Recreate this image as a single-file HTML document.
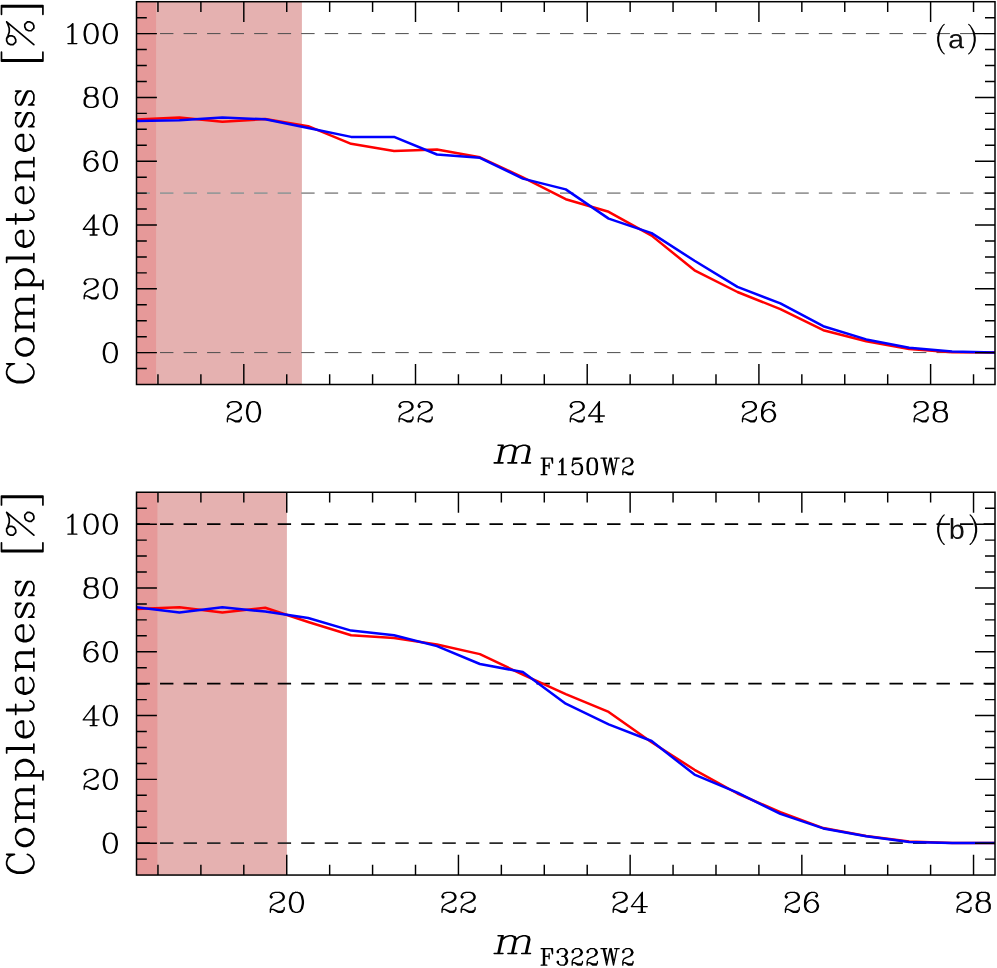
<!DOCTYPE html>
<html><head><meta charset="utf-8"><title>Completeness</title>
<style>
html,body{margin:0;padding:0;background:#fff;}
svg{display:block;}
text{fill:#000;}
.tk{font-family:"Liberation Serif",serif;font-size:31.5px;}
.lab{font-family:"Liberation Serif",serif;font-size:44px;}
.labi{font-family:"Liberation Serif",serif;font-size:44px;font-style:italic;}
.sub{font-family:"Liberation Serif",serif;font-size:27px;}
.pl{font-family:"Liberation Sans",sans-serif;font-size:26.3px;fill:#111;}
</style></head><body>
<svg width="997" height="968" viewBox="0 0 997 968">
<rect width="997" height="968" fill="#fff"/>
<rect x="136.5" y="1.7" width="165.40" height="382.80" fill="#e5b1b0"/>
<rect x="136.5" y="1.7" width="19.60" height="382.80" fill="#e69999"/>
<line x1="136.5" x2="995.0" y1="33.60" y2="33.60" stroke="#4d4d4d" stroke-width="1.0" stroke-dasharray="13.4 10.13"/>
<line x1="136.5" x2="995.0" y1="193.10" y2="193.10" stroke="#999999" stroke-width="1.7" stroke-dasharray="13.4 10.13"/>
<line x1="136.5" x2="995.0" y1="352.60" y2="352.60" stroke="#4d4d4d" stroke-width="1.0" stroke-dasharray="13.4 10.13"/>
<polyline points="136.50,119.60 179.43,117.60 222.35,121.80 265.27,119.10 308.20,126.20 351.12,143.80 394.05,150.90 436.97,149.50 479.90,157.30 522.83,177.40 565.75,199.20 608.67,211.80 651.60,235.60 694.52,270.30 737.45,292.00 780.38,309.10 823.30,330.20 866.22,341.30 909.15,349.10 952.07,352.30 995.00,352.50" fill="none" stroke="#ff0000" stroke-width="2.5" stroke-linejoin="round"/>
<polyline points="136.50,121.10 179.43,120.30 222.35,117.60 265.27,119.30 308.20,127.90 351.12,136.90 394.05,136.90 436.97,154.50 479.90,157.80 522.83,178.60 565.75,189.40 608.67,218.60 651.60,233.10 694.52,260.80 737.45,286.90 780.38,303.40 823.30,326.20 866.22,339.40 909.15,347.80 952.07,351.60 995.00,352.50" fill="none" stroke="#0000ff" stroke-width="2.5" stroke-linejoin="round"/>
<path d="M157.96 384.50v-10.3M157.96 1.70v10.3M200.89 384.50v-10.3M200.89 1.70v10.3M243.81 384.50v-20.4M243.81 1.70v20.4M286.74 384.50v-10.3M286.74 1.70v10.3M329.66 384.50v-10.3M329.66 1.70v10.3M372.59 384.50v-10.3M372.59 1.70v10.3M415.51 384.50v-20.4M415.51 1.70v20.4M458.44 384.50v-10.3M458.44 1.70v10.3M501.36 384.50v-10.3M501.36 1.70v10.3M544.29 384.50v-10.3M544.29 1.70v10.3M587.21 384.50v-20.4M587.21 1.70v20.4M630.14 384.50v-10.3M630.14 1.70v10.3M673.06 384.50v-10.3M673.06 1.70v10.3M715.99 384.50v-10.3M715.99 1.70v10.3M758.91 384.50v-20.4M758.91 1.70v20.4M801.84 384.50v-10.3M801.84 1.70v10.3M844.76 384.50v-10.3M844.76 1.70v10.3M887.69 384.50v-10.3M887.69 1.70v10.3M930.61 384.50v-20.4M930.61 1.70v20.4M973.54 384.50v-10.3M973.54 1.70v10.3M136.5 368.55h10.3M995.0 368.55h-10.0M136.5 352.60h20.4M995.0 352.60h-20.0M136.5 336.65h10.3M995.0 336.65h-10.0M136.5 320.70h10.3M995.0 320.70h-10.0M136.5 304.75h10.3M995.0 304.75h-10.0M136.5 288.80h20.4M995.0 288.80h-20.0M136.5 272.85h10.3M995.0 272.85h-10.0M136.5 256.90h10.3M995.0 256.90h-10.0M136.5 240.95h10.3M995.0 240.95h-10.0M136.5 225.00h20.4M995.0 225.00h-20.0M136.5 209.05h10.3M995.0 209.05h-10.0M136.5 193.10h10.3M995.0 193.10h-10.0M136.5 177.15h10.3M995.0 177.15h-10.0M136.5 161.20h20.4M995.0 161.20h-20.0M136.5 145.25h10.3M995.0 145.25h-10.0M136.5 129.30h10.3M995.0 129.30h-10.0M136.5 113.35h10.3M995.0 113.35h-10.0M136.5 97.40h20.4M995.0 97.40h-20.0M136.5 81.45h10.3M995.0 81.45h-10.0M136.5 65.50h10.3M995.0 65.50h-10.0M136.5 49.55h10.3M995.0 49.55h-10.0M136.5 33.60h20.4M995.0 33.60h-20.0M136.5 17.65h10.3M995.0 17.65h-10.0" stroke="#000" stroke-width="1.45" fill="none"/>
<rect x="136.5" y="1.70" width="858.50" height="382.80" fill="none" stroke="#000" stroke-width="1.5"/>
<path d="M228.37 405.57 229.36 406.52 228.37 407.47 227.38 406.52 227.38 405.57 228.37 403.66 229.36 402.71 232.33 401.76 236.29 401.76 239.26 402.71 240.25 403.66 241.24 405.57 241.24 407.47 240.25 409.37 237.28 411.28 232.33 413.18 230.35 414.13 228.37 416.04 227.38 418.89 227.38 421.75M236.29 401.76 238.27 402.71 239.26 403.66 240.25 405.57 240.25 407.47 239.26 409.37 236.29 411.28 232.33 413.18M227.38 419.85 228.37 418.89 230.35 418.89 235.30 420.80 238.27 420.80 240.25 419.85 241.24 418.89M230.35 418.89 235.30 421.75 239.26 421.75 240.25 420.80 241.24 418.89 241.24 416.99M252.52 401.76 249.55 402.71 247.57 405.57 246.58 410.33 246.58 413.18 247.57 417.94 249.55 420.80 252.52 421.75 254.50 421.75 257.47 420.80 259.45 417.94 260.44 413.18 260.44 410.33 259.45 405.57 257.47 402.71 254.50 401.76 252.52 401.76M252.52 401.76 250.54 402.71 249.55 403.66 248.56 405.57 247.57 410.33 247.57 413.18 248.56 417.94 249.55 419.85 250.54 420.80 252.52 421.75M254.50 421.75 256.48 420.80 257.47 419.85 258.46 417.94 259.45 413.18 259.45 410.33 258.46 405.57 257.47 403.66 256.48 402.71 254.50 401.76" fill="none" stroke="#000" stroke-width="1.35" stroke-linecap="round" stroke-linejoin="round"/>
<path d="M400.07 405.57 401.06 406.52 400.07 407.47 399.08 406.52 399.08 405.57 400.07 403.66 401.06 402.71 404.03 401.76 407.99 401.76 410.96 402.71 411.95 403.66 412.94 405.57 412.94 407.47 411.95 409.37 408.98 411.28 404.03 413.18 402.05 414.13 400.07 416.04 399.08 418.89 399.08 421.75M407.99 401.76 409.97 402.71 410.96 403.66 411.95 405.57 411.95 407.47 410.96 409.37 407.99 411.28 404.03 413.18M399.08 419.85 400.07 418.89 402.05 418.89 407.00 420.80 409.97 420.80 411.95 419.85 412.94 418.89M402.05 418.89 407.00 421.75 410.96 421.75 411.95 420.80 412.94 418.89 412.94 416.99M419.27 405.57 420.26 406.52 419.27 407.47 418.28 406.52 418.28 405.57 419.27 403.66 420.26 402.71 423.23 401.76 427.19 401.76 430.16 402.71 431.15 403.66 432.14 405.57 432.14 407.47 431.15 409.37 428.18 411.28 423.23 413.18 421.25 414.13 419.27 416.04 418.28 418.89 418.28 421.75M427.19 401.76 429.17 402.71 430.16 403.66 431.15 405.57 431.15 407.47 430.16 409.37 427.19 411.28 423.23 413.18M418.28 419.85 419.27 418.89 421.25 418.89 426.20 420.80 429.17 420.80 431.15 419.85 432.14 418.89M421.25 418.89 426.20 421.75 430.16 421.75 431.15 420.80 432.14 418.89 432.14 416.99" fill="none" stroke="#000" stroke-width="1.35" stroke-linecap="round" stroke-linejoin="round"/>
<path d="M571.28 405.57 572.27 406.52 571.28 407.47 570.29 406.52 570.29 405.57 571.28 403.66 572.27 402.71 575.24 401.76 579.20 401.76 582.17 402.71 583.16 403.66 584.15 405.57 584.15 407.47 583.16 409.37 580.19 411.28 575.24 413.18 573.26 414.13 571.28 416.04 570.29 418.89 570.29 421.75M579.20 401.76 581.18 402.71 582.17 403.66 583.16 405.57 583.16 407.47 582.17 409.37 579.20 411.28 575.24 413.18M570.29 419.85 571.28 418.89 573.26 418.89 578.21 420.80 581.18 420.80 583.16 419.85 584.15 418.89M573.26 418.89 578.21 421.75 582.17 421.75 583.16 420.80 584.15 418.89 584.15 416.99M598.40 403.66 598.40 421.75M599.39 401.76 599.39 421.75M599.39 401.76 588.50 416.04 604.34 416.04M595.43 421.75 602.36 421.75" fill="none" stroke="#000" stroke-width="1.35" stroke-linecap="round" stroke-linejoin="round"/>
<path d="M743.47 405.57 744.46 406.52 743.47 407.47 742.48 406.52 742.48 405.57 743.47 403.66 744.46 402.71 747.43 401.76 751.39 401.76 754.36 402.71 755.35 403.66 756.34 405.57 756.34 407.47 755.35 409.37 752.38 411.28 747.43 413.18 745.45 414.13 743.47 416.04 742.48 418.89 742.48 421.75M751.39 401.76 753.37 402.71 754.36 403.66 755.35 405.57 755.35 407.47 754.36 409.37 751.39 411.28 747.43 413.18M742.48 419.85 743.47 418.89 745.45 418.89 750.40 420.80 753.37 420.80 755.35 419.85 756.34 418.89M745.45 418.89 750.40 421.75 754.36 421.75 755.35 420.80 756.34 418.89 756.34 416.99M773.56 404.61 772.57 405.57 773.56 406.52 774.55 405.57 774.55 404.61 773.56 402.71 771.58 401.76 768.61 401.76 765.64 402.71 763.66 404.61 762.67 406.52 761.68 410.33 761.68 416.04 762.67 418.89 764.65 420.80 767.62 421.75 769.60 421.75 772.57 420.80 774.55 418.89 775.54 416.04 775.54 415.09 774.55 412.23 772.57 410.33 769.60 409.37 768.61 409.37 765.64 410.33 763.66 412.23 762.67 415.09M768.61 401.76 766.63 402.71 764.65 404.61 763.66 406.52 762.67 410.33 762.67 416.04 763.66 418.89 765.64 420.80 767.62 421.75M769.60 421.75 771.58 420.80 773.56 418.89 774.55 416.04 774.55 415.09 773.56 412.23 771.58 410.33 769.60 409.37" fill="none" stroke="#000" stroke-width="1.35" stroke-linecap="round" stroke-linejoin="round"/>
<path d="M915.17 405.57 916.16 406.52 915.17 407.47 914.18 406.52 914.18 405.57 915.17 403.66 916.16 402.71 919.13 401.76 923.09 401.76 926.06 402.71 927.05 403.66 928.04 405.57 928.04 407.47 927.05 409.37 924.08 411.28 919.13 413.18 917.15 414.13 915.17 416.04 914.18 418.89 914.18 421.75M923.09 401.76 925.07 402.71 926.06 403.66 927.05 405.57 927.05 407.47 926.06 409.37 923.09 411.28 919.13 413.18M914.18 419.85 915.17 418.89 917.15 418.89 922.10 420.80 925.07 420.80 927.05 419.85 928.04 418.89M917.15 418.89 922.10 421.75 926.06 421.75 927.05 420.80 928.04 418.89 928.04 416.99M938.33 401.76 935.36 402.71 934.37 404.61 934.37 407.47 935.36 409.37 938.33 410.33 942.29 410.33 945.26 409.37 946.25 407.47 946.25 404.61 945.26 402.71 942.29 401.76 938.33 401.76M938.33 401.76 936.35 402.71 935.36 404.61 935.36 407.47 936.35 409.37 938.33 410.33M942.29 410.33 944.27 409.37 945.26 407.47 945.26 404.61 944.27 402.71 942.29 401.76M938.33 410.33 935.36 411.28 934.37 412.23 933.38 414.13 933.38 417.94 934.37 419.85 935.36 420.80 938.33 421.75 942.29 421.75 945.26 420.80 946.25 419.85 947.24 417.94 947.24 414.13 946.25 412.23 945.26 411.28 942.29 410.33M938.33 410.33 936.35 411.28 935.36 412.23 934.37 414.13 934.37 417.94 935.36 419.85 936.35 420.80 938.33 421.75M942.29 421.75 944.27 420.80 945.26 419.85 946.25 417.94 946.25 414.13 945.26 412.23 944.27 411.28 942.29 410.33" fill="none" stroke="#000" stroke-width="1.35" stroke-linecap="round" stroke-linejoin="round"/>
<path d="M109.33 342.61 106.36 343.56 104.38 346.42 103.39 351.18 103.39 354.03 104.38 358.79 106.36 361.65 109.33 362.60 111.31 362.60 114.28 361.65 116.26 358.79 117.25 354.03 117.25 351.18 116.26 346.42 114.28 343.56 111.31 342.61 109.33 342.61M109.33 342.61 107.35 343.56 106.36 344.51 105.37 346.42 104.38 351.18 104.38 354.03 105.37 358.79 106.36 360.70 107.35 361.65 109.33 362.60M111.31 362.60 113.29 361.65 114.28 360.70 115.27 358.79 116.26 354.03 116.26 351.18 115.27 346.42 114.28 344.51 113.29 343.56 111.31 342.61" fill="none" stroke="#000" stroke-width="1.35" stroke-linecap="round" stroke-linejoin="round"/>
<path d="M85.18 282.62 86.17 283.57 85.18 284.52 84.19 283.57 84.19 282.62 85.18 280.71 86.17 279.76 89.14 278.81 93.10 278.81 96.07 279.76 97.06 280.71 98.05 282.62 98.05 284.52 97.06 286.42 94.09 288.33 89.14 290.23 87.16 291.18 85.18 293.09 84.19 295.94 84.19 298.80M93.10 278.81 95.08 279.76 96.07 280.71 97.06 282.62 97.06 284.52 96.07 286.42 93.10 288.33 89.14 290.23M84.19 296.90 85.18 295.94 87.16 295.94 92.11 297.85 95.08 297.85 97.06 296.90 98.05 295.94M87.16 295.94 92.11 298.80 96.07 298.80 97.06 297.85 98.05 295.94 98.05 294.04M109.33 278.81 106.36 279.76 104.38 282.62 103.39 287.38 103.39 290.23 104.38 294.99 106.36 297.85 109.33 298.80 111.31 298.80 114.28 297.85 116.26 294.99 117.25 290.23 117.25 287.38 116.26 282.62 114.28 279.76 111.31 278.81 109.33 278.81M109.33 278.81 107.35 279.76 106.36 280.71 105.37 282.62 104.38 287.38 104.38 290.23 105.37 294.99 106.36 296.90 107.35 297.85 109.33 298.80M111.31 298.80 113.29 297.85 114.28 296.90 115.27 294.99 116.26 290.23 116.26 287.38 115.27 282.62 114.28 280.71 113.29 279.76 111.31 278.81" fill="none" stroke="#000" stroke-width="1.35" stroke-linecap="round" stroke-linejoin="round"/>
<path d="M93.10 216.91 93.10 235.00M94.09 215.01 94.09 235.00M94.09 215.01 83.20 229.29 99.04 229.29M90.13 235.00 97.06 235.00M109.33 215.01 106.36 215.96 104.38 218.82 103.39 223.58 103.39 226.43 104.38 231.19 106.36 234.05 109.33 235.00 111.31 235.00 114.28 234.05 116.26 231.19 117.25 226.43 117.25 223.58 116.26 218.82 114.28 215.96 111.31 215.01 109.33 215.01M109.33 215.01 107.35 215.96 106.36 216.91 105.37 218.82 104.38 223.58 104.38 226.43 105.37 231.19 106.36 233.10 107.35 234.05 109.33 235.00M111.31 235.00 113.29 234.05 114.28 233.10 115.27 231.19 116.26 226.43 116.26 223.58 115.27 218.82 114.28 216.91 113.29 215.96 111.31 215.01" fill="none" stroke="#000" stroke-width="1.35" stroke-linecap="round" stroke-linejoin="round"/>
<path d="M96.07 154.06 95.08 155.02 96.07 155.97 97.06 155.02 97.06 154.06 96.07 152.16 94.09 151.21 91.12 151.21 88.15 152.16 86.17 154.06 85.18 155.97 84.19 159.78 84.19 165.49 85.18 168.34 87.16 170.25 90.13 171.20 92.11 171.20 95.08 170.25 97.06 168.34 98.05 165.49 98.05 164.54 97.06 161.68 95.08 159.78 92.11 158.82 91.12 158.82 88.15 159.78 86.17 161.68 85.18 164.54M91.12 151.21 89.14 152.16 87.16 154.06 86.17 155.97 85.18 159.78 85.18 165.49 86.17 168.34 88.15 170.25 90.13 171.20M92.11 171.20 94.09 170.25 96.07 168.34 97.06 165.49 97.06 164.54 96.07 161.68 94.09 159.78 92.11 158.82M109.33 151.21 106.36 152.16 104.38 155.02 103.39 159.78 103.39 162.63 104.38 167.39 106.36 170.25 109.33 171.20 111.31 171.20 114.28 170.25 116.26 167.39 117.25 162.63 117.25 159.78 116.26 155.02 114.28 152.16 111.31 151.21 109.33 151.21M109.33 151.21 107.35 152.16 106.36 153.11 105.37 155.02 104.38 159.78 104.38 162.63 105.37 167.39 106.36 169.30 107.35 170.25 109.33 171.20M111.31 171.20 113.29 170.25 114.28 169.30 115.27 167.39 116.26 162.63 116.26 159.78 115.27 155.02 114.28 153.11 113.29 152.16 111.31 151.21" fill="none" stroke="#000" stroke-width="1.35" stroke-linecap="round" stroke-linejoin="round"/>
<path d="M89.14 87.41 86.17 88.36 85.18 90.26 85.18 93.12 86.17 95.02 89.14 95.98 93.10 95.98 96.07 95.02 97.06 93.12 97.06 90.26 96.07 88.36 93.10 87.41 89.14 87.41M89.14 87.41 87.16 88.36 86.17 90.26 86.17 93.12 87.16 95.02 89.14 95.98M93.10 95.98 95.08 95.02 96.07 93.12 96.07 90.26 95.08 88.36 93.10 87.41M89.14 95.98 86.17 96.93 85.18 97.88 84.19 99.78 84.19 103.59 85.18 105.50 86.17 106.45 89.14 107.40 93.10 107.40 96.07 106.45 97.06 105.50 98.05 103.59 98.05 99.78 97.06 97.88 96.07 96.93 93.10 95.98M89.14 95.98 87.16 96.93 86.17 97.88 85.18 99.78 85.18 103.59 86.17 105.50 87.16 106.45 89.14 107.40M93.10 107.40 95.08 106.45 96.07 105.50 97.06 103.59 97.06 99.78 96.07 97.88 95.08 96.93 93.10 95.98M109.33 87.41 106.36 88.36 104.38 91.22 103.39 95.98 103.39 98.83 104.38 103.59 106.36 106.45 109.33 107.40 111.31 107.40 114.28 106.45 116.26 103.59 117.25 98.83 117.25 95.98 116.26 91.22 114.28 88.36 111.31 87.41 109.33 87.41M109.33 87.41 107.35 88.36 106.36 89.31 105.37 91.22 104.38 95.98 104.38 98.83 105.37 103.59 106.36 105.50 107.35 106.45 109.33 107.40M111.31 107.40 113.29 106.45 114.28 105.50 115.27 103.59 116.26 98.83 116.26 95.98 115.27 91.22 114.28 89.31 113.29 88.36 111.31 87.41" fill="none" stroke="#000" stroke-width="1.35" stroke-linecap="round" stroke-linejoin="round"/>
<path d="M67.96 27.42 69.94 26.46 72.91 23.61 72.91 43.60M71.92 24.56 71.92 43.60M67.96 43.60 76.87 43.60M90.13 23.61 87.16 24.56 85.18 27.42 84.19 32.18 84.19 35.03 85.18 39.79 87.16 42.65 90.13 43.60 92.11 43.60 95.08 42.65 97.06 39.79 98.05 35.03 98.05 32.18 97.06 27.42 95.08 24.56 92.11 23.61 90.13 23.61M90.13 23.61 88.15 24.56 87.16 25.51 86.17 27.42 85.18 32.18 85.18 35.03 86.17 39.79 87.16 41.70 88.15 42.65 90.13 43.60M92.11 43.60 94.09 42.65 95.08 41.70 96.07 39.79 97.06 35.03 97.06 32.18 96.07 27.42 95.08 25.51 94.09 24.56 92.11 23.61M109.33 23.61 106.36 24.56 104.38 27.42 103.39 32.18 103.39 35.03 104.38 39.79 106.36 42.65 109.33 43.60 111.31 43.60 114.28 42.65 116.26 39.79 117.25 35.03 117.25 32.18 116.26 27.42 114.28 24.56 111.31 23.61 109.33 23.61M109.33 23.61 107.35 24.56 106.36 25.51 105.37 27.42 104.38 32.18 104.38 35.03 105.37 39.79 106.36 41.70 107.35 42.65 109.33 43.60M111.31 43.60 113.29 42.65 114.28 41.70 115.27 39.79 116.26 35.03 116.26 32.18 115.27 27.42 114.28 25.51 113.29 24.56 111.31 23.61" fill="none" stroke="#000" stroke-width="1.35" stroke-linecap="round" stroke-linejoin="round"/>
<path d="M10.54 365.03 14.43 363.77 6.66 363.77 10.54 365.03 7.95 367.56 6.66 371.34 6.66 373.87 7.95 377.66 10.54 380.19 13.13 381.45 17.02 382.71 23.49 382.71 27.38 381.45 29.97 380.19 32.55 377.66 33.85 373.87 33.85 371.34 32.55 367.56 29.97 365.03 27.38 363.77M6.66 373.87 7.95 376.40 10.54 378.92 13.13 380.19 17.02 381.45 23.49 381.45 27.38 380.19 29.97 378.92 32.55 376.40 33.85 373.87M15.72 348.25 17.02 352.04 19.61 354.57 23.49 355.83 26.08 355.83 29.97 354.57 32.56 352.04 33.85 348.25 33.85 345.73 32.56 341.94 29.97 339.41 26.08 338.15 23.49 338.15 19.61 339.41 17.02 341.94 15.72 345.73 15.72 348.25M15.72 348.25 17.02 350.78 19.61 353.31 23.49 354.57 26.08 354.57 29.97 353.31 32.56 350.78 33.85 348.25M33.85 345.73 32.56 343.20 29.97 340.68 26.08 339.41 23.49 339.41 19.61 340.68 17.02 343.20 15.72 345.73M15.72 327.70 33.85 327.70M15.72 326.44 33.85 326.44M19.61 326.44 17.02 323.92 15.72 320.13 15.72 317.60 17.02 313.81 19.61 312.55 33.85 312.55M15.72 317.60 17.02 315.07 19.61 313.81 33.85 313.81M19.61 312.55 17.02 310.02 15.72 306.23 15.72 303.71 17.02 299.92 19.61 298.66 33.85 298.66M15.72 303.71 17.02 301.18 19.61 299.92 33.85 299.92M15.72 331.49 15.72 326.44M33.85 331.49 33.85 322.65M33.85 317.60 33.85 308.76M33.85 303.71 33.85 294.87M15.72 285.47 42.92 285.47M15.72 284.20 42.92 284.20M19.61 284.20 17.02 281.68 15.72 279.15 15.72 276.62 17.02 272.84 19.61 270.31 23.49 269.05 26.08 269.05 29.97 270.31 32.56 272.84 33.85 276.62 33.85 279.15 32.56 281.68 29.97 284.20M15.72 276.62 17.02 274.10 19.61 271.57 23.49 270.31 26.08 270.31 29.97 271.57 32.56 274.10 33.85 276.62M15.72 289.25 15.72 284.20M42.92 289.25 42.92 280.41M6.66 258.58 33.85 258.58M6.66 257.32 33.85 257.32M6.66 262.37 6.66 257.32M33.85 262.37 33.85 253.53M23.49 245.77 23.49 230.61 20.90 230.61 18.31 231.88 17.02 233.14 15.72 235.66 15.72 239.45 17.02 243.24 19.61 245.77 23.49 247.03 26.08 247.03 29.97 245.77 32.56 243.24 33.85 239.45 33.85 236.93 32.56 233.14 29.97 230.61M23.49 231.88 19.61 231.88 17.02 233.14M15.72 239.45 17.02 241.98 19.61 244.50 23.49 245.77 26.08 245.77 29.97 244.50 32.56 241.98 33.85 239.45M6.66 220.19 28.67 220.19 32.56 218.92 33.85 216.40 33.85 213.87 32.56 211.34 29.97 210.08M6.66 218.92 28.67 218.92 32.56 217.66 33.85 216.40M15.72 223.97 15.72 213.87M23.49 202.25 23.49 187.09 20.90 187.09 18.31 188.35 17.02 189.62 15.72 192.14 15.72 195.93 17.02 199.72 19.61 202.25 23.49 203.51 26.08 203.51 29.97 202.25 32.56 199.72 33.85 195.93 33.85 193.41 32.56 189.62 29.97 187.09M23.49 188.35 19.61 188.35 17.02 189.62M15.72 195.93 17.02 198.46 19.61 200.98 23.49 202.25 26.08 202.25 29.97 200.98 32.56 198.46 33.85 195.93M15.72 176.66 33.85 176.66M15.72 175.40 33.85 175.40M19.61 175.40 17.02 172.88 15.72 169.09 15.72 166.56 17.02 162.77 19.61 161.51 33.85 161.51M15.72 166.56 17.02 164.03 19.61 162.77 33.85 162.77M15.72 180.45 15.72 175.40M33.85 180.45 33.85 171.61M33.85 166.56 33.85 157.72M23.49 149.77 23.49 134.61 20.90 134.61 18.31 135.88 17.02 137.14 15.72 139.66 15.72 143.45 17.02 147.24 19.61 149.77 23.49 151.03 26.08 151.03 29.97 149.77 32.56 147.24 33.85 143.45 33.85 140.93 32.56 137.14 29.97 134.61M23.49 135.88 19.61 135.88 17.02 137.14M15.72 143.45 17.02 145.98 19.61 148.50 23.49 149.77 26.08 149.77 29.97 148.50 32.56 145.98 33.85 143.45M18.31 114.08 15.72 112.82 20.90 112.82 18.31 114.08 17.02 115.34 15.72 117.87 15.72 122.92 17.02 125.45 18.31 126.71 20.90 126.71 22.20 125.45 23.49 122.92 26.08 116.61 27.38 114.08 28.67 112.82M19.61 126.71 20.90 125.45 22.20 122.92 24.79 116.61 26.08 114.08 27.38 112.82 31.26 112.82 32.56 114.08 33.85 116.61 33.85 121.66 32.56 124.19 31.26 125.45 28.67 126.71 33.85 126.71 31.26 125.45M18.31 92.32 15.72 91.06 20.90 91.06 18.31 92.32 17.02 93.58 15.72 96.11 15.72 101.16 17.02 103.69 18.31 104.95 20.90 104.95 22.20 103.69 23.49 101.16 26.08 94.85 27.38 92.32 28.67 91.06M19.61 104.95 20.90 103.69 22.20 101.16 24.79 94.85 26.08 92.32 27.38 91.06 31.26 91.06 32.56 92.32 33.85 94.85 33.85 99.90 32.56 102.43 31.26 103.69 28.67 104.95 33.85 104.95 31.26 103.69" fill="none" stroke="#000" stroke-width="1.7" stroke-linecap="round" stroke-linejoin="round"/>
<path d="M1.48 61.05 42.91 61.05M1.48 59.79 42.91 59.79M1.48 61.05 1.48 52.21M42.91 61.05 42.91 52.21M6.66 21.91 33.85 44.65M6.66 38.33 9.25 35.80 11.84 35.80 14.43 37.07 15.72 39.59 15.72 42.12 13.13 44.65 10.54 44.65 7.95 43.38 6.66 40.86 6.66 38.33 7.95 35.80 9.25 32.02 9.25 28.23 7.95 24.44 6.66 21.91M24.79 26.96 26.08 29.49 28.67 30.75 31.26 30.75 33.85 28.23 33.85 25.70 32.56 23.17 29.97 21.91 27.38 21.91 24.79 24.44 24.79 26.96M1.48 6.78 42.92 6.78M1.48 5.52 42.92 5.52M1.48 14.36 1.48 5.52M42.92 14.36 42.92 5.52" fill="none" stroke="#000" stroke-width="1.7" stroke-linecap="round" stroke-linejoin="round"/>
<path d="M501.84 445.22 497.95 462.90M503.09 445.22 499.20 462.90M502.26 449.01 505.31 446.48 509.34 445.22 511.84 445.22 515.31 446.48 516.01 449.01 512.95 462.90M511.84 445.22 514.06 446.48 514.76 449.01 511.70 462.90M516.01 449.01 519.06 446.48 523.09 445.22 525.59 445.22 529.06 446.48 529.76 449.01 526.70 462.90M525.59 445.22 527.81 446.48 528.51 449.01 525.45 462.90M498.09 445.22 503.09 445.22M494.20 462.90 502.95 462.90M507.95 462.90 516.70 462.90M521.70 462.90 530.45 462.90" fill="none" stroke="#000" stroke-width="1.6" stroke-linecap="round" stroke-linejoin="round"/>
<path d="M543.43 458.14 543.43 474.65M544.57 458.14 544.57 474.65M549.13 463.22 549.13 468.30M541.15 458.14 552.55 458.14 552.55 463.22 551.41 458.14M544.57 465.76 549.13 465.76M541.15 474.65 546.85 474.65M559.53 461.95 562.95 458.14 562.95 474.65M561.81 459.41 561.81 474.65M558.39 474.65 566.37 474.65M573.34 458.14 572.20 465.76M573.34 458.14 581.32 458.14M573.34 459.41 577.90 459.41 581.32 458.14M572.20 465.76 573.34 464.49 575.62 463.22 579.04 463.22 581.32 464.49 582.46 467.03 582.46 470.84 581.32 473.38 579.04 474.65 575.62 474.65 573.34 473.38 572.20 472.11 572.20 470.84 573.34 470.84 573.34 472.11M579.04 463.22 580.18 464.49 581.32 467.03 581.32 470.84 580.18 473.38 579.04 474.65M590.57 458.14 588.29 459.41 587.15 463.22 587.15 469.57 588.29 473.38 590.57 474.65 593.99 474.65 596.27 473.38 597.41 469.57 597.41 463.22 596.27 459.41 593.99 458.14 590.57 458.14M590.57 458.14 589.43 459.41 588.29 463.22 588.29 469.57 589.43 473.38 590.57 474.65M593.99 474.65 595.13 473.38 596.27 469.57 596.27 463.22 595.13 459.41 593.99 458.14M603.24 458.14 606.66 474.65M604.38 458.14 606.66 469.57M610.08 458.14 606.66 474.65M610.08 458.14 613.50 474.65M611.22 458.14 613.50 469.57M616.92 458.14 613.50 474.65M600.96 458.14 606.66 458.14M614.64 458.14 619.20 458.14M623.94 460.68 623.94 461.95 622.80 461.95 622.80 460.68 623.94 459.41 626.22 458.14 629.64 458.14 631.92 459.41 633.06 461.95 631.92 464.49 629.64 465.76 626.22 467.03 623.94 468.30 622.80 470.84 622.80 474.65M629.64 458.14 630.78 459.41 631.92 461.95 630.78 464.49 629.64 465.76M622.80 473.38 623.94 472.11 625.08 472.11 628.50 473.38 631.92 473.38 633.06 472.11M625.08 472.11 628.50 474.65 631.92 474.65 633.06 472.11 633.06 470.84" fill="none" stroke="#000" stroke-width="1.3" stroke-linecap="round" stroke-linejoin="round"/>
<path d="M944.21 24.35 942.35 26.20 940.49 28.98 938.63 32.67 937.70 37.30 937.70 41.00 938.63 45.62 940.49 49.33 942.35 52.10 944.21 53.95M942.35 26.20 940.49 29.90 939.56 32.67 938.63 37.30 938.63 41.00 939.56 45.62 940.49 48.40 942.35 52.10M968.69 24.35 970.55 26.20 972.41 28.98 974.27 32.67 975.20 37.30 975.20 41.00 974.27 45.62 972.41 49.33 970.55 52.10 968.69 53.95M970.55 26.20 972.41 29.90 973.34 32.67 974.27 37.30 974.27 41.00 973.34 45.62 972.41 48.40 970.55 52.10" fill="none" stroke="#000" stroke-width="1.15" stroke-linecap="round" stroke-linejoin="round"/>
<path d="M414 -20Q251 -20 169.0 66.0Q87 152 87 302Q87 470 197.5 560.0Q308 650 554 656L797 660V719Q797 851 741.0 908.0Q685 965 565 965Q444 965 389.0 924.0Q334 883 323 793L135 810Q181 1102 569 1102Q773 1102 876.0 1008.5Q979 915 979 738V272Q979 192 1000.0 151.5Q1021 111 1080 111Q1106 111 1139 118V6Q1071 -10 1000 -10Q900 -10 854.5 42.5Q809 95 803 207H797Q728 83 636.5 31.5Q545 -20 414 -20ZM455 115Q554 115 631.0 160.0Q708 205 752.5 283.5Q797 362 797 445V534L600 530Q473 528 407.5 504.0Q342 480 307.0 430.0Q272 380 272 299Q272 211 319.5 163.0Q367 115 455 115Z" fill="#111" transform="translate(948.08,48.20) scale(0.01400,-0.01284)"/>
<rect x="136.5" y="492.25" width="150.40" height="382.80" fill="#e5b1b0"/>
<rect x="136.5" y="492.25" width="20.90" height="382.80" fill="#e69999"/>
<line x1="136.5" x2="995.0" y1="524.15" y2="524.15" stroke="#000000" stroke-width="1.6" stroke-dasharray="13.4 10.13"/>
<line x1="136.5" x2="995.0" y1="683.65" y2="683.65" stroke="#000000" stroke-width="1.75" stroke-dasharray="13.4 10.13"/>
<line x1="136.5" x2="995.0" y1="843.15" y2="843.15" stroke="#2a2a2a" stroke-width="1.75" stroke-dasharray="13.4 10.13"/>
<polyline points="136.50,609.00 179.43,607.30 222.35,612.40 265.27,607.80 308.20,622.00 351.12,635.20 394.05,638.10 436.97,644.50 479.90,654.10 522.83,674.60 565.75,694.10 608.67,711.90 651.60,742.20 694.52,769.80 737.45,793.50 780.38,812.20 823.30,828.10 866.22,835.90 909.15,841.50 952.07,843.00 995.00,843.10" fill="none" stroke="#ff0000" stroke-width="2.5" stroke-linejoin="round"/>
<polyline points="136.50,607.30 179.43,612.40 222.35,607.30 265.27,611.60 308.20,618.00 351.12,630.60 394.05,635.20 436.97,646.10 479.90,664.00 522.83,672.00 565.75,703.70 608.67,724.30 651.60,741.00 694.52,774.60 737.45,792.60 780.38,813.90 823.30,828.40 866.22,836.30 909.15,841.90 952.07,843.10 995.00,843.10" fill="none" stroke="#0000ff" stroke-width="2.5" stroke-linejoin="round"/>
<path d="M157.96 875.05v-10.3M157.96 492.25v10.3M200.89 875.05v-10.3M200.89 492.25v10.3M243.81 875.05v-10.3M243.81 492.25v10.3M286.74 875.05v-20.4M286.74 492.25v20.4M329.66 875.05v-10.3M329.66 492.25v10.3M372.59 875.05v-10.3M372.59 492.25v10.3M415.51 875.05v-10.3M415.51 492.25v10.3M458.44 875.05v-20.4M458.44 492.25v20.4M501.36 875.05v-10.3M501.36 492.25v10.3M544.29 875.05v-10.3M544.29 492.25v10.3M587.21 875.05v-10.3M587.21 492.25v10.3M630.14 875.05v-20.4M630.14 492.25v20.4M673.06 875.05v-10.3M673.06 492.25v10.3M715.99 875.05v-10.3M715.99 492.25v10.3M758.91 875.05v-10.3M758.91 492.25v10.3M801.84 875.05v-20.4M801.84 492.25v20.4M844.76 875.05v-10.3M844.76 492.25v10.3M887.69 875.05v-10.3M887.69 492.25v10.3M930.61 875.05v-10.3M930.61 492.25v10.3M973.54 875.05v-20.4M973.54 492.25v20.4M136.5 859.10h10.3M995.0 859.10h-10.0M136.5 843.15h20.4M995.0 843.15h-20.0M136.5 827.20h10.3M995.0 827.20h-10.0M136.5 811.25h10.3M995.0 811.25h-10.0M136.5 795.30h10.3M995.0 795.30h-10.0M136.5 779.35h20.4M995.0 779.35h-20.0M136.5 763.40h10.3M995.0 763.40h-10.0M136.5 747.45h10.3M995.0 747.45h-10.0M136.5 731.50h10.3M995.0 731.50h-10.0M136.5 715.55h20.4M995.0 715.55h-20.0M136.5 699.60h10.3M995.0 699.60h-10.0M136.5 683.65h10.3M995.0 683.65h-10.0M136.5 667.70h10.3M995.0 667.70h-10.0M136.5 651.75h20.4M995.0 651.75h-20.0M136.5 635.80h10.3M995.0 635.80h-10.0M136.5 619.85h10.3M995.0 619.85h-10.0M136.5 603.90h10.3M995.0 603.90h-10.0M136.5 587.95h20.4M995.0 587.95h-20.0M136.5 572.00h10.3M995.0 572.00h-10.0M136.5 556.05h10.3M995.0 556.05h-10.0M136.5 540.10h10.3M995.0 540.10h-10.0M136.5 524.15h20.4M995.0 524.15h-20.0M136.5 508.20h10.3M995.0 508.20h-10.0" stroke="#000" stroke-width="1.45" fill="none"/>
<rect x="136.5" y="492.25" width="858.50" height="382.80" fill="none" stroke="#000" stroke-width="1.5"/>
<path d="M271.30 896.12 272.29 897.07 271.30 898.02 270.31 897.07 270.31 896.12 271.30 894.21 272.29 893.26 275.26 892.31 279.22 892.31 282.19 893.26 283.18 894.21 284.17 896.12 284.17 898.02 283.18 899.92 280.21 901.83 275.26 903.73 273.28 904.68 271.30 906.59 270.31 909.44 270.31 912.30M279.22 892.31 281.20 893.26 282.19 894.21 283.18 896.12 283.18 898.02 282.19 899.92 279.22 901.83 275.26 903.73M270.31 910.40 271.30 909.44 273.28 909.44 278.23 911.35 281.20 911.35 283.18 910.40 284.17 909.44M273.28 909.44 278.23 912.30 282.19 912.30 283.18 911.35 284.17 909.44 284.17 907.54M295.45 892.31 292.48 893.26 290.50 896.12 289.51 900.88 289.51 903.73 290.50 908.49 292.48 911.35 295.45 912.30 297.43 912.30 300.40 911.35 302.38 908.49 303.37 903.73 303.37 900.88 302.38 896.12 300.40 893.26 297.43 892.31 295.45 892.31M295.45 892.31 293.47 893.26 292.48 894.21 291.49 896.12 290.50 900.88 290.50 903.73 291.49 908.49 292.48 910.40 293.47 911.35 295.45 912.30M297.43 912.30 299.41 911.35 300.40 910.40 301.39 908.49 302.38 903.73 302.38 900.88 301.39 896.12 300.40 894.21 299.41 893.26 297.43 892.31" fill="none" stroke="#000" stroke-width="1.35" stroke-linecap="round" stroke-linejoin="round"/>
<path d="M443.00 896.12 443.99 897.07 443.00 898.02 442.01 897.07 442.01 896.12 443.00 894.21 443.99 893.26 446.96 892.31 450.92 892.31 453.89 893.26 454.88 894.21 455.87 896.12 455.87 898.02 454.88 899.92 451.91 901.83 446.96 903.73 444.98 904.68 443.00 906.59 442.01 909.44 442.01 912.30M450.92 892.31 452.90 893.26 453.89 894.21 454.88 896.12 454.88 898.02 453.89 899.92 450.92 901.83 446.96 903.73M442.01 910.40 443.00 909.44 444.98 909.44 449.93 911.35 452.90 911.35 454.88 910.40 455.87 909.44M444.98 909.44 449.93 912.30 453.89 912.30 454.88 911.35 455.87 909.44 455.87 907.54M462.20 896.12 463.19 897.07 462.20 898.02 461.21 897.07 461.21 896.12 462.20 894.21 463.19 893.26 466.16 892.31 470.12 892.31 473.09 893.26 474.08 894.21 475.07 896.12 475.07 898.02 474.08 899.92 471.11 901.83 466.16 903.73 464.18 904.68 462.20 906.59 461.21 909.44 461.21 912.30M470.12 892.31 472.10 893.26 473.09 894.21 474.08 896.12 474.08 898.02 473.09 899.92 470.12 901.83 466.16 903.73M461.21 910.40 462.20 909.44 464.18 909.44 469.13 911.35 472.10 911.35 474.08 910.40 475.07 909.44M464.18 909.44 469.13 912.30 473.09 912.30 474.08 911.35 475.07 909.44 475.07 907.54" fill="none" stroke="#000" stroke-width="1.35" stroke-linecap="round" stroke-linejoin="round"/>
<path d="M614.20 896.12 615.19 897.07 614.20 898.02 613.21 897.07 613.21 896.12 614.20 894.21 615.19 893.26 618.16 892.31 622.12 892.31 625.09 893.26 626.08 894.21 627.07 896.12 627.07 898.02 626.08 899.92 623.11 901.83 618.16 903.73 616.18 904.68 614.20 906.59 613.21 909.44 613.21 912.30M622.12 892.31 624.10 893.26 625.09 894.21 626.08 896.12 626.08 898.02 625.09 899.92 622.12 901.83 618.16 903.73M613.21 910.40 614.20 909.44 616.18 909.44 621.13 911.35 624.10 911.35 626.08 910.40 627.07 909.44M616.18 909.44 621.13 912.30 625.09 912.30 626.08 911.35 627.07 909.44 627.07 907.54M641.32 894.21 641.32 912.30M642.31 892.31 642.31 912.30M642.31 892.31 631.42 906.59 647.26 906.59M638.35 912.30 645.28 912.30" fill="none" stroke="#000" stroke-width="1.35" stroke-linecap="round" stroke-linejoin="round"/>
<path d="M786.40 896.12 787.39 897.07 786.40 898.02 785.41 897.07 785.41 896.12 786.40 894.21 787.39 893.26 790.36 892.31 794.32 892.31 797.29 893.26 798.28 894.21 799.27 896.12 799.27 898.02 798.28 899.92 795.31 901.83 790.36 903.73 788.38 904.68 786.40 906.59 785.41 909.44 785.41 912.30M794.32 892.31 796.30 893.26 797.29 894.21 798.28 896.12 798.28 898.02 797.29 899.92 794.32 901.83 790.36 903.73M785.41 910.40 786.40 909.44 788.38 909.44 793.33 911.35 796.30 911.35 798.28 910.40 799.27 909.44M788.38 909.44 793.33 912.30 797.29 912.30 798.28 911.35 799.27 909.44 799.27 907.54M816.49 895.16 815.50 896.12 816.49 897.07 817.48 896.12 817.48 895.16 816.49 893.26 814.51 892.31 811.54 892.31 808.57 893.26 806.59 895.16 805.60 897.07 804.61 900.88 804.61 906.59 805.60 909.44 807.58 911.35 810.55 912.30 812.53 912.30 815.50 911.35 817.48 909.44 818.47 906.59 818.47 905.64 817.48 902.78 815.50 900.88 812.53 899.92 811.54 899.92 808.57 900.88 806.59 902.78 805.60 905.64M811.54 892.31 809.56 893.26 807.58 895.16 806.59 897.07 805.60 900.88 805.60 906.59 806.59 909.44 808.57 911.35 810.55 912.30M812.53 912.30 814.51 911.35 816.49 909.44 817.48 906.59 817.48 905.64 816.49 902.78 814.51 900.88 812.53 899.92" fill="none" stroke="#000" stroke-width="1.35" stroke-linecap="round" stroke-linejoin="round"/>
<path d="M958.10 896.12 959.09 897.07 958.10 898.02 957.11 897.07 957.11 896.12 958.10 894.21 959.09 893.26 962.06 892.31 966.02 892.31 968.99 893.26 969.98 894.21 970.97 896.12 970.97 898.02 969.98 899.92 967.01 901.83 962.06 903.73 960.08 904.68 958.10 906.59 957.11 909.44 957.11 912.30M966.02 892.31 968.00 893.26 968.99 894.21 969.98 896.12 969.98 898.02 968.99 899.92 966.02 901.83 962.06 903.73M957.11 910.40 958.10 909.44 960.08 909.44 965.03 911.35 968.00 911.35 969.98 910.40 970.97 909.44M960.08 909.44 965.03 912.30 968.99 912.30 969.98 911.35 970.97 909.44 970.97 907.54M981.26 892.31 978.29 893.26 977.30 895.16 977.30 898.02 978.29 899.92 981.26 900.88 985.22 900.88 988.19 899.92 989.18 898.02 989.18 895.16 988.19 893.26 985.22 892.31 981.26 892.31M981.26 892.31 979.28 893.26 978.29 895.16 978.29 898.02 979.28 899.92 981.26 900.88M985.22 900.88 987.20 899.92 988.19 898.02 988.19 895.16 987.20 893.26 985.22 892.31M981.26 900.88 978.29 901.83 977.30 902.78 976.31 904.68 976.31 908.49 977.30 910.40 978.29 911.35 981.26 912.30 985.22 912.30 988.19 911.35 989.18 910.40 990.17 908.49 990.17 904.68 989.18 902.78 988.19 901.83 985.22 900.88M981.26 900.88 979.28 901.83 978.29 902.78 977.30 904.68 977.30 908.49 978.29 910.40 979.28 911.35 981.26 912.30M985.22 912.30 987.20 911.35 988.19 910.40 989.18 908.49 989.18 904.68 988.19 902.78 987.20 901.83 985.22 900.88" fill="none" stroke="#000" stroke-width="1.35" stroke-linecap="round" stroke-linejoin="round"/>
<path d="M109.33 833.16 106.36 834.11 104.38 836.97 103.39 841.73 103.39 844.58 104.38 849.34 106.36 852.20 109.33 853.15 111.31 853.15 114.28 852.20 116.26 849.34 117.25 844.58 117.25 841.73 116.26 836.97 114.28 834.11 111.31 833.16 109.33 833.16M109.33 833.16 107.35 834.11 106.36 835.06 105.37 836.97 104.38 841.73 104.38 844.58 105.37 849.34 106.36 851.25 107.35 852.20 109.33 853.15M111.31 853.15 113.29 852.20 114.28 851.25 115.27 849.34 116.26 844.58 116.26 841.73 115.27 836.97 114.28 835.06 113.29 834.11 111.31 833.16" fill="none" stroke="#000" stroke-width="1.35" stroke-linecap="round" stroke-linejoin="round"/>
<path d="M85.18 773.17 86.17 774.12 85.18 775.07 84.19 774.12 84.19 773.17 85.18 771.26 86.17 770.31 89.14 769.36 93.10 769.36 96.07 770.31 97.06 771.26 98.05 773.17 98.05 775.07 97.06 776.97 94.09 778.88 89.14 780.78 87.16 781.73 85.18 783.64 84.19 786.49 84.19 789.35M93.10 769.36 95.08 770.31 96.07 771.26 97.06 773.17 97.06 775.07 96.07 776.97 93.10 778.88 89.14 780.78M84.19 787.45 85.18 786.49 87.16 786.49 92.11 788.40 95.08 788.40 97.06 787.45 98.05 786.49M87.16 786.49 92.11 789.35 96.07 789.35 97.06 788.40 98.05 786.49 98.05 784.59M109.33 769.36 106.36 770.31 104.38 773.17 103.39 777.93 103.39 780.78 104.38 785.54 106.36 788.40 109.33 789.35 111.31 789.35 114.28 788.40 116.26 785.54 117.25 780.78 117.25 777.93 116.26 773.17 114.28 770.31 111.31 769.36 109.33 769.36M109.33 769.36 107.35 770.31 106.36 771.26 105.37 773.17 104.38 777.93 104.38 780.78 105.37 785.54 106.36 787.45 107.35 788.40 109.33 789.35M111.31 789.35 113.29 788.40 114.28 787.45 115.27 785.54 116.26 780.78 116.26 777.93 115.27 773.17 114.28 771.26 113.29 770.31 111.31 769.36" fill="none" stroke="#000" stroke-width="1.35" stroke-linecap="round" stroke-linejoin="round"/>
<path d="M93.10 707.46 93.10 725.55M94.09 705.56 94.09 725.55M94.09 705.56 83.20 719.84 99.04 719.84M90.13 725.55 97.06 725.55M109.33 705.56 106.36 706.51 104.38 709.37 103.39 714.13 103.39 716.98 104.38 721.74 106.36 724.60 109.33 725.55 111.31 725.55 114.28 724.60 116.26 721.74 117.25 716.98 117.25 714.13 116.26 709.37 114.28 706.51 111.31 705.56 109.33 705.56M109.33 705.56 107.35 706.51 106.36 707.46 105.37 709.37 104.38 714.13 104.38 716.98 105.37 721.74 106.36 723.65 107.35 724.60 109.33 725.55M111.31 725.55 113.29 724.60 114.28 723.65 115.27 721.74 116.26 716.98 116.26 714.13 115.27 709.37 114.28 707.46 113.29 706.51 111.31 705.56" fill="none" stroke="#000" stroke-width="1.35" stroke-linecap="round" stroke-linejoin="round"/>
<path d="M96.07 644.61 95.08 645.57 96.07 646.52 97.06 645.57 97.06 644.61 96.07 642.71 94.09 641.76 91.12 641.76 88.15 642.71 86.17 644.61 85.18 646.52 84.19 650.33 84.19 656.04 85.18 658.89 87.16 660.80 90.13 661.75 92.11 661.75 95.08 660.80 97.06 658.89 98.05 656.04 98.05 655.09 97.06 652.23 95.08 650.33 92.11 649.37 91.12 649.37 88.15 650.33 86.17 652.23 85.18 655.09M91.12 641.76 89.14 642.71 87.16 644.61 86.17 646.52 85.18 650.33 85.18 656.04 86.17 658.89 88.15 660.80 90.13 661.75M92.11 661.75 94.09 660.80 96.07 658.89 97.06 656.04 97.06 655.09 96.07 652.23 94.09 650.33 92.11 649.37M109.33 641.76 106.36 642.71 104.38 645.57 103.39 650.33 103.39 653.18 104.38 657.94 106.36 660.80 109.33 661.75 111.31 661.75 114.28 660.80 116.26 657.94 117.25 653.18 117.25 650.33 116.26 645.57 114.28 642.71 111.31 641.76 109.33 641.76M109.33 641.76 107.35 642.71 106.36 643.66 105.37 645.57 104.38 650.33 104.38 653.18 105.37 657.94 106.36 659.85 107.35 660.80 109.33 661.75M111.31 661.75 113.29 660.80 114.28 659.85 115.27 657.94 116.26 653.18 116.26 650.33 115.27 645.57 114.28 643.66 113.29 642.71 111.31 641.76" fill="none" stroke="#000" stroke-width="1.35" stroke-linecap="round" stroke-linejoin="round"/>
<path d="M89.14 577.96 86.17 578.91 85.18 580.81 85.18 583.67 86.17 585.57 89.14 586.53 93.10 586.53 96.07 585.57 97.06 583.67 97.06 580.81 96.07 578.91 93.10 577.96 89.14 577.96M89.14 577.96 87.16 578.91 86.17 580.81 86.17 583.67 87.16 585.57 89.14 586.53M93.10 586.53 95.08 585.57 96.07 583.67 96.07 580.81 95.08 578.91 93.10 577.96M89.14 586.53 86.17 587.48 85.18 588.43 84.19 590.33 84.19 594.14 85.18 596.05 86.17 597.00 89.14 597.95 93.10 597.95 96.07 597.00 97.06 596.05 98.05 594.14 98.05 590.33 97.06 588.43 96.07 587.48 93.10 586.53M89.14 586.53 87.16 587.48 86.17 588.43 85.18 590.33 85.18 594.14 86.17 596.05 87.16 597.00 89.14 597.95M93.10 597.95 95.08 597.00 96.07 596.05 97.06 594.14 97.06 590.33 96.07 588.43 95.08 587.48 93.10 586.53M109.33 577.96 106.36 578.91 104.38 581.77 103.39 586.53 103.39 589.38 104.38 594.14 106.36 597.00 109.33 597.95 111.31 597.95 114.28 597.00 116.26 594.14 117.25 589.38 117.25 586.53 116.26 581.77 114.28 578.91 111.31 577.96 109.33 577.96M109.33 577.96 107.35 578.91 106.36 579.86 105.37 581.77 104.38 586.53 104.38 589.38 105.37 594.14 106.36 596.05 107.35 597.00 109.33 597.95M111.31 597.95 113.29 597.00 114.28 596.05 115.27 594.14 116.26 589.38 116.26 586.53 115.27 581.77 114.28 579.86 113.29 578.91 111.31 577.96" fill="none" stroke="#000" stroke-width="1.35" stroke-linecap="round" stroke-linejoin="round"/>
<path d="M67.96 517.97 69.94 517.01 72.91 514.16 72.91 534.15M71.92 515.11 71.92 534.15M67.96 534.15 76.87 534.15M90.13 514.16 87.16 515.11 85.18 517.97 84.19 522.73 84.19 525.58 85.18 530.34 87.16 533.20 90.13 534.15 92.11 534.15 95.08 533.20 97.06 530.34 98.05 525.58 98.05 522.73 97.06 517.97 95.08 515.11 92.11 514.16 90.13 514.16M90.13 514.16 88.15 515.11 87.16 516.06 86.17 517.97 85.18 522.73 85.18 525.58 86.17 530.34 87.16 532.25 88.15 533.20 90.13 534.15M92.11 534.15 94.09 533.20 95.08 532.25 96.07 530.34 97.06 525.58 97.06 522.73 96.07 517.97 95.08 516.06 94.09 515.11 92.11 514.16M109.33 514.16 106.36 515.11 104.38 517.97 103.39 522.73 103.39 525.58 104.38 530.34 106.36 533.20 109.33 534.15 111.31 534.15 114.28 533.20 116.26 530.34 117.25 525.58 117.25 522.73 116.26 517.97 114.28 515.11 111.31 514.16 109.33 514.16M109.33 514.16 107.35 515.11 106.36 516.06 105.37 517.97 104.38 522.73 104.38 525.58 105.37 530.34 106.36 532.25 107.35 533.20 109.33 534.15M111.31 534.15 113.29 533.20 114.28 532.25 115.27 530.34 116.26 525.58 116.26 522.73 115.27 517.97 114.28 516.06 113.29 515.11 111.31 514.16" fill="none" stroke="#000" stroke-width="1.35" stroke-linecap="round" stroke-linejoin="round"/>
<path d="M10.54 855.58 14.43 854.32 6.66 854.32 10.54 855.58 7.95 858.10 6.66 861.89 6.66 864.42 7.95 868.21 10.54 870.73 13.13 872.00 17.02 873.26 23.49 873.26 27.38 872.00 29.97 870.73 32.55 868.21 33.85 864.42 33.85 861.89 32.55 858.10 29.97 855.58 27.38 854.32M6.66 864.42 7.95 866.95 10.54 869.47 13.13 870.73 17.02 872.00 23.49 872.00 27.38 870.73 29.97 869.47 32.55 866.95 33.85 864.42M15.72 838.80 17.02 842.59 19.61 845.12 23.49 846.38 26.08 846.38 29.97 845.12 32.56 842.59 33.85 838.80 33.85 836.28 32.56 832.49 29.97 829.96 26.08 828.70 23.49 828.70 19.61 829.96 17.02 832.49 15.72 836.28 15.72 838.80M15.72 838.80 17.02 841.33 19.61 843.85 23.49 845.12 26.08 845.12 29.97 843.85 32.56 841.33 33.85 838.80M33.85 836.28 32.56 833.75 29.97 831.22 26.08 829.96 23.49 829.96 19.61 831.22 17.02 833.75 15.72 836.28M15.72 818.25 33.85 818.25M15.72 816.99 33.85 816.99M19.61 816.99 17.02 814.47 15.72 810.68 15.72 808.15 17.02 804.36 19.61 803.10 33.85 803.10M15.72 808.15 17.02 805.62 19.61 804.36 33.85 804.36M19.61 803.10 17.02 800.57 15.72 796.78 15.72 794.26 17.02 790.47 19.61 789.21 33.85 789.21M15.72 794.26 17.02 791.73 19.61 790.47 33.85 790.47M15.72 822.04 15.72 816.99M33.85 822.04 33.85 813.20M33.85 808.15 33.85 799.31M33.85 794.26 33.85 785.42M15.72 776.01 42.92 776.01M15.72 774.75 42.92 774.75M19.61 774.75 17.02 772.23 15.72 769.70 15.72 767.17 17.02 763.38 19.61 760.86 23.49 759.60 26.08 759.60 29.97 760.86 32.56 763.38 33.85 767.17 33.85 769.70 32.56 772.23 29.97 774.75M15.72 767.17 17.02 764.65 19.61 762.12 23.49 760.86 26.08 760.86 29.97 762.12 32.56 764.65 33.85 767.17M15.72 779.80 15.72 774.75M42.92 779.80 42.92 770.96M6.66 749.13 33.85 749.13M6.66 747.87 33.85 747.87M6.66 752.92 6.66 747.87M33.85 752.92 33.85 744.08M23.49 736.32 23.49 721.16 20.90 721.16 18.31 722.42 17.02 723.69 15.72 726.21 15.72 730.00 17.02 733.79 19.61 736.32 23.49 737.58 26.08 737.58 29.97 736.32 32.56 733.79 33.85 730.00 33.85 727.48 32.56 723.69 29.97 721.16M23.49 722.42 19.61 722.42 17.02 723.69M15.72 730.00 17.02 732.53 19.61 735.05 23.49 736.32 26.08 736.32 29.97 735.05 32.56 732.53 33.85 730.00M6.66 710.73 28.67 710.73 32.56 709.47 33.85 706.95 33.85 704.42 32.56 701.89 29.97 700.63M6.66 709.47 28.67 709.47 32.56 708.21 33.85 706.95M15.72 714.52 15.72 704.42M23.49 692.80 23.49 677.64 20.90 677.64 18.31 678.90 17.02 680.17 15.72 682.69 15.72 686.48 17.02 690.27 19.61 692.80 23.49 694.06 26.08 694.06 29.97 692.80 32.56 690.27 33.85 686.48 33.85 683.96 32.56 680.17 29.97 677.64M23.49 678.90 19.61 678.90 17.02 680.17M15.72 686.48 17.02 689.01 19.61 691.53 23.49 692.80 26.08 692.80 29.97 691.53 32.56 689.01 33.85 686.48M15.72 667.21 33.85 667.21M15.72 665.95 33.85 665.95M19.61 665.95 17.02 663.43 15.72 659.64 15.72 657.11 17.02 653.32 19.61 652.06 33.85 652.06M15.72 657.11 17.02 654.58 19.61 653.32 33.85 653.32M15.72 671.00 15.72 665.95M33.85 671.00 33.85 662.16M33.85 657.11 33.85 648.27M23.49 640.32 23.49 625.16 20.90 625.16 18.31 626.42 17.02 627.69 15.72 630.21 15.72 634.00 17.02 637.79 19.61 640.32 23.49 641.58 26.08 641.58 29.97 640.32 32.56 637.79 33.85 634.00 33.85 631.48 32.56 627.69 29.97 625.16M23.49 626.42 19.61 626.42 17.02 627.69M15.72 634.00 17.02 636.53 19.61 639.05 23.49 640.32 26.08 640.32 29.97 639.05 32.56 636.53 33.85 634.00M18.31 604.63 15.72 603.37 20.90 603.37 18.31 604.63 17.02 605.89 15.72 608.42 15.72 613.47 17.02 616.00 18.31 617.26 20.90 617.26 22.20 616.00 23.49 613.47 26.08 607.16 27.38 604.63 28.67 603.37M19.61 617.26 20.90 616.00 22.20 613.47 24.79 607.16 26.08 604.63 27.38 603.37 31.26 603.37 32.56 604.63 33.85 607.16 33.85 612.21 32.56 614.73 31.26 616.00 28.67 617.26 33.85 617.26 31.26 616.00M18.31 582.87 15.72 581.61 20.90 581.61 18.31 582.87 17.02 584.13 15.72 586.66 15.72 591.71 17.02 594.24 18.31 595.50 20.90 595.50 22.20 594.24 23.49 591.71 26.08 585.40 27.38 582.87 28.67 581.61M19.61 595.50 20.90 594.24 22.20 591.71 24.79 585.40 26.08 582.87 27.38 581.61 31.26 581.61 32.56 582.87 33.85 585.40 33.85 590.45 32.56 592.97 31.26 594.24 28.67 595.50 33.85 595.50 31.26 594.24" fill="none" stroke="#000" stroke-width="1.7" stroke-linecap="round" stroke-linejoin="round"/>
<path d="M1.48 551.60 42.91 551.60M1.48 550.34 42.91 550.34M1.48 551.60 1.48 542.76M42.91 551.60 42.91 542.76M6.66 512.46 33.85 535.20M6.66 528.88 9.25 526.35 11.84 526.35 14.43 527.62 15.72 530.14 15.72 532.67 13.13 535.20 10.54 535.20 7.95 533.93 6.66 531.41 6.66 528.88 7.95 526.35 9.25 522.57 9.25 518.78 7.95 514.99 6.66 512.46M24.79 517.51 26.08 520.04 28.67 521.30 31.26 521.30 33.85 518.78 33.85 516.25 32.56 513.72 29.97 512.46 27.38 512.46 24.79 514.99 24.79 517.51M1.48 497.33 42.92 497.33M1.48 496.07 42.92 496.07M1.48 504.91 1.48 496.07M42.92 504.91 42.92 496.07" fill="none" stroke="#000" stroke-width="1.7" stroke-linecap="round" stroke-linejoin="round"/>
<path d="M501.84 935.77 497.95 953.45M503.09 935.77 499.20 953.45M502.26 939.56 505.31 937.03 509.34 935.77 511.84 935.77 515.31 937.03 516.01 939.56 512.95 953.45M511.84 935.77 514.06 937.03 514.76 939.56 511.70 953.45M516.01 939.56 519.06 937.03 523.09 935.77 525.59 935.77 529.06 937.03 529.76 939.56 526.70 953.45M525.59 935.77 527.81 937.03 528.51 939.56 525.45 953.45M498.09 935.77 503.09 935.77M494.20 953.45 502.95 953.45M507.95 953.45 516.70 953.45M521.70 953.45 530.45 953.45" fill="none" stroke="#000" stroke-width="1.6" stroke-linecap="round" stroke-linejoin="round"/>
<path d="M543.43 948.69 543.43 965.20M544.57 948.69 544.57 965.20M549.13 953.77 549.13 958.85M541.15 948.69 552.55 948.69 552.55 953.77 551.41 948.69M544.57 956.31 549.13 956.31M541.15 965.20 546.85 965.20M558.39 951.23 558.39 952.50 557.25 952.50 557.25 951.23 558.39 949.96 560.67 948.69 564.09 948.69 566.37 949.96 567.51 952.50 566.37 955.04 564.09 956.31M564.09 948.69 565.23 949.96 566.37 952.50 565.23 955.04 564.09 956.31M561.81 956.31 564.09 956.31 566.37 957.58 567.51 960.12 567.51 961.39 566.37 963.93 564.09 965.20 560.67 965.20 558.39 963.93 557.25 962.66 557.25 961.39 558.39 961.39 558.39 962.66M564.09 956.31 565.23 957.58 566.37 960.12 566.37 961.39 565.23 963.93 564.09 965.20M573.34 951.23 573.34 952.50 572.20 952.50 572.20 951.23 573.34 949.96 575.62 948.69 579.04 948.69 581.32 949.96 582.46 952.50 581.32 955.04 579.04 956.31 575.62 957.58 573.34 958.85 572.20 961.39 572.20 965.20M579.04 948.69 580.18 949.96 581.32 952.50 580.18 955.04 579.04 956.31M572.20 963.93 573.34 962.66 574.48 962.66 577.90 963.93 581.32 963.93 582.46 962.66M574.48 962.66 577.90 965.20 581.32 965.20 582.46 962.66 582.46 961.39M588.29 951.23 588.29 952.50 587.15 952.50 587.15 951.23 588.29 949.96 590.57 948.69 593.99 948.69 596.27 949.96 597.41 952.50 596.27 955.04 593.99 956.31 590.57 957.58 588.29 958.85 587.15 961.39 587.15 965.20M593.99 948.69 595.13 949.96 596.27 952.50 595.13 955.04 593.99 956.31M587.15 963.93 588.29 962.66 589.43 962.66 592.85 963.93 596.27 963.93 597.41 962.66M589.43 962.66 592.85 965.20 596.27 965.20 597.41 962.66 597.41 961.39M603.24 948.69 606.66 965.20M604.38 948.69 606.66 960.12M610.08 948.69 606.66 965.20M610.08 948.69 613.50 965.20M611.22 948.69 613.50 960.12M616.92 948.69 613.50 965.20M600.96 948.69 606.66 948.69M614.64 948.69 619.20 948.69M623.94 951.23 623.94 952.50 622.80 952.50 622.80 951.23 623.94 949.96 626.22 948.69 629.64 948.69 631.92 949.96 633.06 952.50 631.92 955.04 629.64 956.31 626.22 957.58 623.94 958.85 622.80 961.39 622.80 965.20M629.64 948.69 630.78 949.96 631.92 952.50 630.78 955.04 629.64 956.31M622.80 963.93 623.94 962.66 625.08 962.66 628.50 963.93 631.92 963.93 633.06 962.66M625.08 962.66 628.50 965.20 631.92 965.20 633.06 962.66 633.06 961.39" fill="none" stroke="#000" stroke-width="1.3" stroke-linecap="round" stroke-linejoin="round"/>
<path d="M944.21 514.90 942.35 516.75 940.49 519.52 938.63 523.23 937.70 527.85 937.70 531.55 938.63 536.17 940.49 539.88 942.35 542.65 944.21 544.50M942.35 516.75 940.49 520.45 939.56 523.23 938.63 527.85 938.63 531.55 939.56 536.17 940.49 538.95 942.35 542.65M970.09 514.90 971.95 516.75 973.81 519.52 975.67 523.23 976.60 527.85 976.60 531.55 975.67 536.17 973.81 539.88 971.95 542.65 970.09 544.50M971.95 516.75 973.81 520.45 974.74 523.23 975.67 527.85 975.67 531.55 974.74 536.17 973.81 538.95 971.95 542.65" fill="none" stroke="#000" stroke-width="1.15" stroke-linecap="round" stroke-linejoin="round"/>
<path d="M1053 546Q1053 -20 655 -20Q532 -20 450.5 24.5Q369 69 318 168H316Q316 137 312.0 73.5Q308 10 306 0H132Q138 54 138 223V1616H318V1061Q318 996 314 908H318Q368 1012 450.5 1057.0Q533 1102 655 1102Q860 1102 956.5 964.0Q1053 826 1053 546ZM864 540Q864 767 804.0 865.0Q744 963 609 963Q457 963 387.5 859.0Q318 755 318 529Q318 316 386.0 214.5Q454 113 607 113Q743 113 803.5 213.5Q864 314 864 540Z" fill="#111" transform="translate(948.83,538.75) scale(0.01400,-0.01284)"/>
</svg>
</body></html>
